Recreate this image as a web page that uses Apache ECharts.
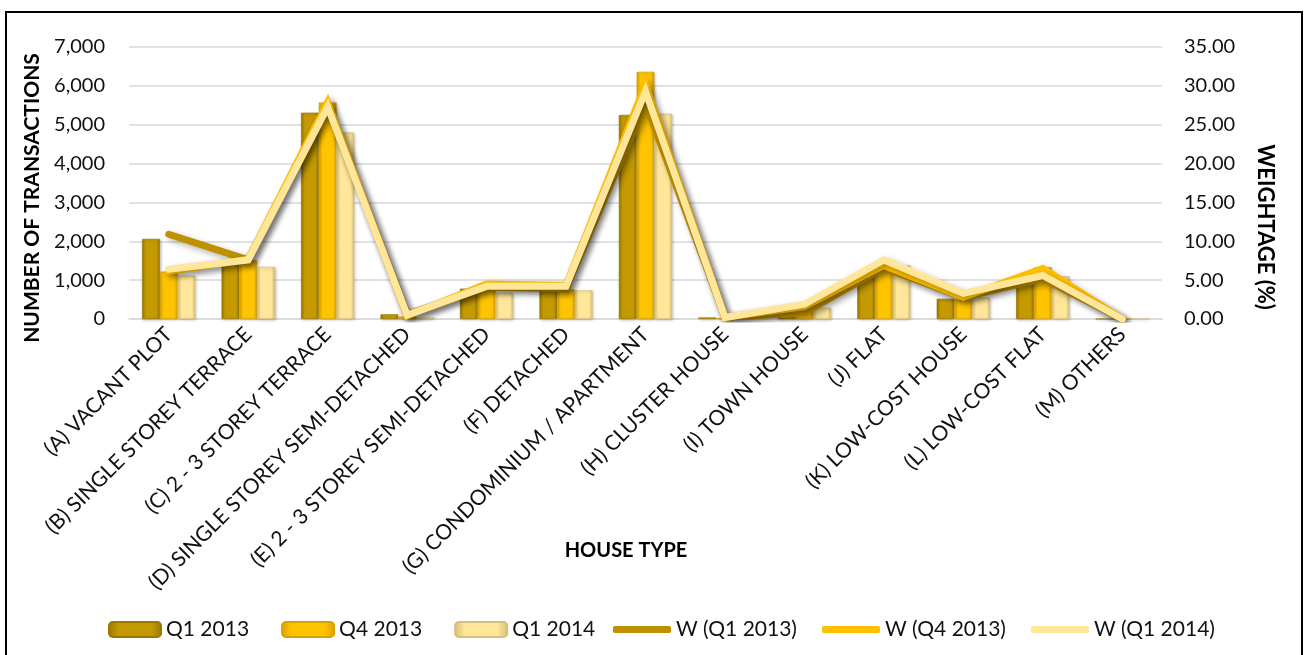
<!DOCTYPE html>
<html>
<head>
<meta charset="utf-8">
<title>House type transactions</title>
<script src="https://cdn.jsdelivr.net/npm/echarts@6/dist/echarts.min.js"></script>
<style>
  html, body { margin: 0; padding: 0; background: #fff; }
  #chart { width: 1311px; height: 655px; }
</style>
</head>
<body>
<div id="chart"></div>
<script>
// 房屋类型
const houseTypes = [
  '(A) VACANT PLOT',
  '(B) SINGLE STOREY TERRACE',
  '(C) 2 - 3 STOREY TERRACE',
  '(D) SINGLE STOREY SEMI-DETACHED',
  '(E) 2 - 3 STOREY SEMI-DETACHED',
  '(F) DETACHED',
  '(G) CONDOMINIUM / APARTMENT',
  '(H) CLUSTER HOUSE',
  '(I) TOWN HOUSE',
  '(J) FLAT',
  '(K) LOW-COST HOUSE',
  '(L) LOW-COST FLAT',
  '(M) OTHERS'
]

// number of transactions
const q1_2013 = [2060, 1450, 5310, 120, 780, 750, 5250, 40, 150, 1150, 520, 900, 0]
const q4_2013 = [1220, 1510, 5570, 60, 750, 760, 6360, 20, 190, 1280, 500, 1330, 0]
const q1_2014 = [1120, 1340, 4800, 40, 670, 740, 5280, 10, 290, 1380, 550, 1100, 0]

// weightage (%)
const w_q1_2013 = [10.9, 7.6, 27.5, 0.6, 4.1, 3.9, 27.8, 0.2, 0.8, 6.6, 2.8, 5.2, 0]
const w_q4_2013 = [6.1, 7.7, 27.9, 0.4, 4.5, 4.3, 30.2, 0.2, 1.6, 6.9, 2.8, 6.5, 0]
const w_q1_2014 = [6.4, 7.6, 27.3, 0.5, 4.2, 4.2, 29.3, 0.2, 1.9, 7.6, 3.3, 5.6, 0]

// tick labels
const leftTicks = [0, 7000, 1000]
const rightTicks = [0, 35, 5]

const FONT = 'Lato, "Open Sans", sans-serif'

// 斜面柱子的渐变
const bevel = (edge, base) => ({
  type: 'linear', x: 0, y: 0, x2: 1, y2: 0,
  colorStops: [
    { offset: 0, color: edge },
    { offset: 0.2, color: base },
    { offset: 0.8, color: base },
    { offset: 1, color: edge }
  ]
})

const barSeries = (name, data, edge, base) => ({
  name,
  type: 'bar',
  data,
  barGap: '0%',
  barCategoryGap: '33%',
  itemStyle: {
    color: bevel(edge, base),
    borderColor: edge,
    borderWidth: 0.6,
    shadowColor: 'rgba(0,0,0,0.25)',
    shadowBlur: 3,
    shadowOffsetX: 1,
    shadowOffsetY: 1
  }
})

const lineSeries = (name, data, color) => ({
  name,
  type: 'line',
  yAxisIndex: 1,
  data,
  symbol: 'none',
  itemStyle: { color },
  lineStyle: {
    color,
    width: 7,
    cap: 'round',
    join: 'miter',
    shadowColor: 'rgba(0,0,0,0.3)',
    shadowBlur: 6,
    shadowOffsetX: 3,
    shadowOffsetY: 3
  },
  z: 5
})

const chart = echarts.init(document.getElementById('chart'))

const option = {
  animation: false,
  grid: {
    left: 129,
    right: 149,
    top: 47,
    bottom: 336,
    containLabel: false,
    outerBoundsMode: 'none'
  },
  legend: [
    {
      data: ['Q1 2013', 'Q4 2013', 'Q1 2014'],
      left: 103,
      top: 614,
      itemWidth: 52,
      itemHeight: 15,
      itemGap: 32,
      textStyle: { fontFamily: FONT, fontSize: 21, color: '#111' }
    },
    {
      data: ['W (Q1 2013)', 'W (Q4 2013)', 'W (Q1 2014)'],
      left: 608,
      top: 614,
      icon: 'roundRect',
      itemWidth: 58,
      itemHeight: 7,
      itemGap: 25,
      textStyle: { fontFamily: FONT, fontSize: 21, color: '#111' }
    }
  ],
  xAxis: {
    type: 'category',
    data: houseTypes,
    axisLine: { lineStyle: { color: '#d9d9d9', width: 1.5 } },
    axisTick: { show: false },
    axisLabel: {
      interval: 0,
      rotate: 45,
      margin: 12,
      fontFamily: FONT,
      fontSize: 21,
      color: '#111'
    }
  },
  yAxis: [
    {
      type: 'value',
      min: leftTicks[0],
      max: leftTicks[1],
      interval: leftTicks[2],
      axisLine: { show: false },
      axisTick: { show: false },
      splitLine: { lineStyle: { color: '#d9d9d9', width: 1.5 } },
      axisLabel: {
        margin: 24,
        fontFamily: FONT,
        fontSize: 20,
        color: '#111',
        formatter: v => v.toLocaleString('en-US')
      }
    },
    {
      type: 'value',
      min: rightTicks[0],
      max: rightTicks[1],
      interval: rightTicks[2],
      axisLine: { show: false },
      axisTick: { show: false },
      splitLine: { show: false },
      axisLabel: {
        margin: 22,
        fontFamily: FONT,
        fontSize: 20,
        color: '#111',
        formatter: v => v.toFixed(2)
      }
    }
  ],
  graphic: [
    {
      type: 'rect',
      shape: { x: 6, y: 12, width: 1296, height: 660 },
      style: { fill: 'none', stroke: '#000', lineWidth: 2 },
      silent: true
    },
    {
      type: 'text',
      x: 32, y: 198,
      rotation: Math.PI / 2,
      style: {
        text: 'NUMBER OF TRANSACTIONS',
        fontFamily: FONT, fontSize: 21, fontWeight: 'bold', fill: '#000',
        align: 'center', verticalAlign: 'middle'
      }
    },
    {
      type: 'text',
      x: 1265, y: 227,
      rotation: -Math.PI / 2,
      style: {
        text: 'WEIGHTAGE (%)',
        fontFamily: FONT, fontSize: 22, fontWeight: 'bold', fill: '#000',
        align: 'center', verticalAlign: 'middle'
      }
    },
    {
      type: 'text',
      x: 626, y: 551,
      style: {
        text: 'HOUSE TYPE',
        fontFamily: FONT, fontSize: 20, fontWeight: 'bold', fill: '#000',
        align: 'center', verticalAlign: 'middle'
      }
    }
  ],
  series: [
    barSeries('Q1 2013', q1_2013, '#9a7700', '#c49a00'),
    barSeries('Q4 2013', q4_2013, '#d9a200', '#ffc400'),
    barSeries('Q1 2014', q1_2014, '#d6bf7a', '#ffe699'),
    lineSeries('W (Q1 2013)', w_q1_2013, '#bf9000'),
    lineSeries('W (Q4 2013)', w_q4_2013, '#ffc000'),
    lineSeries('W (Q1 2014)', w_q1_2014, '#ffe699')
  ]
}

chart.setOption(option)
</script>
</body>
</html>
